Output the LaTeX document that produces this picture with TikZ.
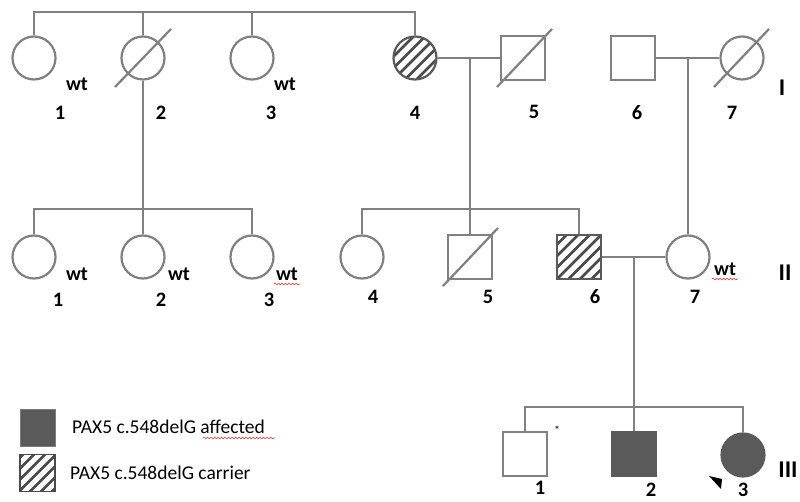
\documentclass[tikz,border=0pt]{standalone}
\usepackage{fontspec}
\setmainfont{Carlito}
\usetikzlibrary{calc,decorations.pathmorphing}
\definecolor{lg}{HTML}{808080}
\definecolor{dg}{HTML}{5A5A5A}
\definecolor{hc}{HTML}{4A4A4A}
\definecolor{sq}{HTML}{E03030}
\tikzset{
  rel/.style={draw=lg, line width=2.2pt},
  pc/.style={circle, draw=lg, line width=2.2pt, minimum size=43pt, inner sep=0pt},
  ps/.style={rectangle, draw=lg, line width=2.2pt, minimum size=44pt, inner sep=0pt},
  aff/.style={fill=dg, draw=dg},
  hatchfill/.style={draw=dg, path picture={
     \foreach \k in {-6,...,6}{\draw[line width=2.7pt, draw=hc]
       ($(path picture bounding box.center)+(\k*11.5-40,40)$) -- ++(80,-80);}}},
  num/.style={font=\bfseries\fontsize{20.5}{24}\selectfont, inner sep=0pt},
  wtl/.style={font=\bfseries\fontsize{20}{24}\selectfont, inner sep=0pt},
  gen/.style={font=\bfseries\fontsize{24}{28}\selectfont, inner sep=0pt},
  leg/.style={font=\fontsize{19.5}{23}\selectfont, inner sep=0pt, anchor=west},
  squig/.style={draw=sq, line width=0.6pt, decorate, decoration={snake, amplitude=0.9pt, segment length=3.5pt}},
  dslash/.style={draw=lg, line width=2.2pt}
}
\begin{document}
\begin{tikzpicture}[x=1pt,y=-1pt]
\useasboundingbox (0,0) rectangle (800,502);
\fill[white] (0,0) rectangle (800,502);

% Generation I
\node[pc] (I1) at (34,58) {};
\node[pc] (I2) at (143,58) {};
\node[pc] (I3) at (252,58) {};
\node[pc,hatchfill] (I4) at (415,58) {};
\node[ps] (I5) at (523,58) {};
\node[ps] (I6) at (633,58) {};
\node[pc] (I7) at (742,58) {};
\draw[dslash] ($(I2.center)+(-28,29)$) -- ($(I2.center)+(28,-29)$);
\draw[dslash] ($(I5.center)+(-26,29)$) -- ($(I5.center)+(29,-29)$);
\draw[dslash] ($(I7.center)+(-28,29)$) -- ($(I7.center)+(27,-29)$);

\coordinate (t1) at (0,12);
\draw[rel] (I1.north) -- (I1.north |- t1) -| (I4.north);
\draw[rel] (I2.north) -- (I2.north |- t1);
\draw[rel] (I3.north) -- (I3.north |- t1);

\draw[rel] (I4.east) -- (I5.west);
\draw[rel] (I6.east) -- (I7.west);
\coordinate (m1) at (470,58);
\coordinate (m2) at (688,58);

% Generation II
\node[pc] (II1) at (34,257) {};
\node[pc] (II2) at (143,257) {};
\node[pc] (II3) at (252,257) {};
\node[pc] (II4) at (362,257) {};
\node[ps] (II5) at (470,257) {};
\node[ps,hatchfill] (II6) at (579,257) {};
\node[pc] (II7) at (688,257) {};
\draw[dslash] ($(II5.center)+(-27,29)$) -- ($(II5.center)+(28,-29)$);

\coordinate (t2) at (0,209);
\draw[rel] (I2.south) -- (I2.south |- t2);
\draw[rel] (II1.north) -- (II1.north |- t2) -| (II3.north);
\draw[rel] (II2.north) -- (II2.north |- t2);
\draw[rel] (II4.north) -- (II4.north |- t2) -| (II6.north);
\draw[rel] (m1) -- (II5.north);
\draw[rel] (m2) -- (II7.north);
\draw[rel] (II6.east) -- (II7.west);
\coordinate (m3) at (634,257);

% Generation III
\node[ps] (III1) at (525,454) {};
\node[ps,aff] (III2) at (634,454) {};
\node[pc,aff] (III3) at (743,455) {};
\coordinate (t3) at (0,407);
\draw[rel] (III1.north) -- (III1.north |- t3) -| (III3.north);
\draw[rel] (m3) -- (III2.north);
\fill[black] (709,476) -- (722,479) -- (721,489) -- cycle;
\node[font=\fontsize{12}{14}\selectfont, inner sep=0pt] (ast) at (557,430) {*};

% numbers
\node[num] (nI1) at (60,113) {1};
\node[num] (nI2) at (161,113) {2};
\node[num] (nI3) at (271,113) {3};
\node[num] (nI4) at (415,113) {4};
\node[num] (nI5) at (534,112) {5};
\node[num] (nI6) at (637,113) {6};
\node[num] (nI7) at (732,113) {7};
\node[num] (nII1) at (58,300) {1};
\node[num] (nII2) at (161,300) {2};
\node[num] (nII3) at (269,300) {3};
\node[num] (nII4) at (373,297) {4};
\node[num] (nII5) at (488,297) {5};
\node[num] (nII6) at (595,297) {6};
\node[num] (nII7) at (695,297) {7};
\node[num] (nIII1) at (540,488) {1};
\node[num] (nIII2) at (651,490) {2};
\node[num] (nIII3) at (743,490) {3};

% wt labels
\node[wtl] (wI1) at (77,84) {wt};
\node[wtl] (wI3) at (285,84) {wt};
\node[wtl] (wII1) at (77,274) {wt};
\node[wtl] (wII2) at (179,274) {wt};
\node[wtl] (wII3) at (287,274) {wt};
\node[wtl] (wII7) at (725,269) {wt};
\draw[squig] (274,284) -- (300,284);
\draw[squig] (712,279) -- (738,279);

% generation labels
\node[gen] (gI) at (782,88) {I};
\node[gen] (gII) at (785,273) {II};
\node[gen] (gIII) at (788,470) {III};

% legend
\node[rectangle, fill=dg, draw=dg!80, line width=0.8pt, minimum width=35pt, minimum height=37pt, inner sep=0pt] (L1) at (37.5,427.5) {};
\node[rectangle, draw=hc, line width=1.2pt, minimum width=35pt, minimum height=37pt, inner sep=0pt,
  path picture={\foreach \k in {-5,...,5}{\draw[line width=2.6pt, draw=hc]
       ($(path picture bounding box.center)+(\k*11-35,35)$) -- ++(70,-70);}}] (L2) at (37.5,473) {};
\node[leg] (T1) at (72,427) {PAX5 c.548delG affected};
\node[leg] (T2) at (70,473) {PAX5 c.548delG carrier};
\draw[squig] (203,438) -- (275,438);
\end{tikzpicture}
\end{document}
